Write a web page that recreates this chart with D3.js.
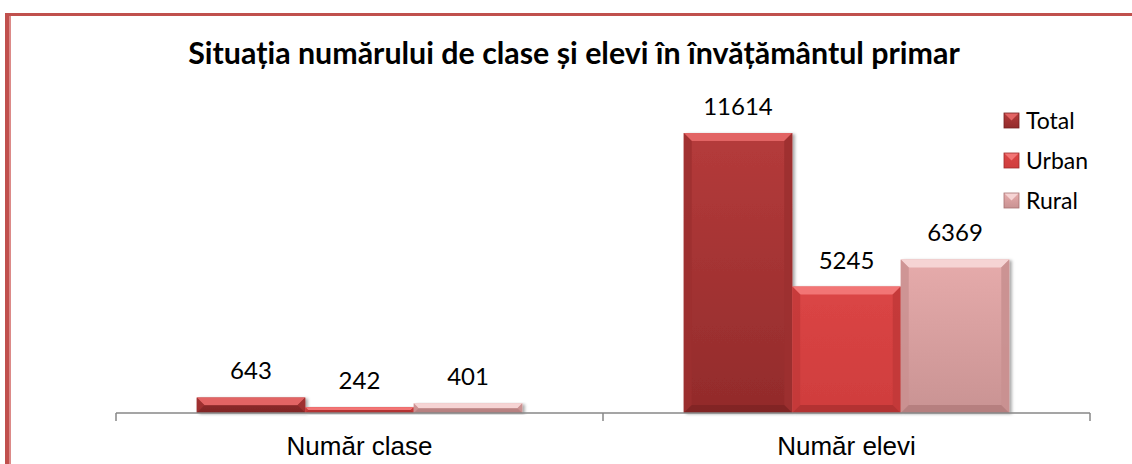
<!DOCTYPE html>
<html>
<head>
<meta charset="utf-8">
<script src="https://cdn.jsdelivr.net/npm/d3@7"></script>
<style>
  body { margin: 0; background: #fff; }
  svg { display: block; }
</style>
</head>
<body>
<svg id="chart" width="1132" height="464"></svg>
<script>
// Data
const categories = ["Număr clase", "Număr elevi"];
const seriesNames = ["Total", "Urban", "Rural"];
const totalValues = [643, 11614];
const urbanValues = [242, 5245];
const ruralValues = [401, 6369];
const yDomain = [0, 14000];

const titleText = "Situația numărului de clase și elevi în învățământul primar";

// colours for every series: face top, face bottom, top bevel, side, bottom edge
const palette = {
    Total: { top: "#b53b3b", bottom: "#922b2b", bevel: "#e26464", side: "#9c3030", edge: "#772222" },
    Urban: { top: "#db4545", bottom: "#cf3d3d", bevel: "#f27575", side: "#c23838", edge: "#a02c2c" },
    Rural: { top: "#e6abab", bottom: "#c99393", bevel: "#f6d4d4", side: "#c99090", edge: "#a87272" }
};

const rows = categories.map((c, i) => ({
    category: c,
    values: [
        { key: "Total", value: totalValues[i] },
        { key: "Urban", value: urbanValues[i] },
        { key: "Rural", value: ruralValues[i] }
    ]
}));

const svg = d3.select("#chart");

// frame: thick left side and top line
svg.append("rect").attr("x", 5).attr("y", 13).attr("width", 1127).attr("height", 3).attr("fill", "#c0504d");
svg.append("rect").attr("x", 5).attr("y", 13).attr("width", 5).attr("height", 451).attr("fill", "#c0504d");
svg.append("rect").attr("x", 9).attr("y", 16).attr("width", 2).attr("height", 448).attr("fill", "#dc8a88");

const defs = svg.append("defs");
seriesNames.forEach(k => {
    const g = defs.append("linearGradient").attr("id", "grad-" + k)
        .attr("x1", 0).attr("y1", 0).attr("x2", 0).attr("y2", 1);
    g.append("stop").attr("offset", "0%").attr("stop-color", palette[k].top);
    g.append("stop").attr("offset", "100%").attr("stop-color", palette[k].bottom);
});
const shadow = defs.append("filter").attr("id", "shadow")
    .attr("x", "-10%").attr("y", "-10%").attr("width", "130%").attr("height", "130%");
shadow.append("feDropShadow").attr("dx", 2.5).attr("dy", 1).attr("stdDeviation", 1.5)
    .attr("flood-color", "#000").attr("flood-opacity", 0.35);

// scales
const x0 = d3.scaleBand().domain(categories).range([116, 1090]).paddingInner(0).paddingOuter(0);
const x1 = d3.scaleBand().domain(seriesNames).range([0, x0.bandwidth()]).paddingInner(0).paddingOuter(0.744);
const y = d3.scaleLinear().domain(yDomain).range([413, 75.5]);

// title, fitted to the width it has in the picture
const title = svg.append("text")
    .attr("x", 574).attr("y", 64)
    .attr("text-anchor", "middle")
    .style("font-family", "Lato, 'Open Sans', sans-serif")
    .style("font-weight", "bold")
    .style("font-size", "26px")
    .attr("fill", "#000")
    .text(titleText);
const tw = title.node().getComputedTextLength();
title.style("font-size", (26 * 772 / tw).toFixed(2) + "px");

// bars
const groups = svg.append("g").selectAll("g")
    .data(rows)
    .join("g")
    .attr("transform", d => `translate(${x0(d.category)},0)`);

groups.each(function (row) {
    const g = d3.select(this);
    row.values.forEach(v => {
        const bx = x1(v.key);
        const w = x1.bandwidth();
        const top = y(v.value);
        const h = y(0) - top;
        const b = Math.min(8, h / 2);
        const c = palette[v.key];
        const bar = g.append("g");
        bar.append("rect")
            .attr("x", bx).attr("y", top).attr("width", w).attr("height", h)
            .attr("fill", "url(#grad-" + v.key + ")")
            .attr("filter", "url(#shadow)");
        // top bevel
        bar.append("path")
            .attr("d", `M${bx},${top}L${bx + w},${top}L${bx + w - b},${top + b}L${bx + b},${top + b}Z`)
            .attr("fill", c.bevel);
        // side bevels
        bar.append("path")
            .attr("d", `M${bx},${top}L${bx + b},${top + b}L${bx + b},${top + h - b}L${bx},${top + h}Z`)
            .attr("fill", c.side).attr("opacity", 0.8);
        bar.append("path")
            .attr("d", `M${bx + w},${top}L${bx + w - b},${top + b}L${bx + w - b},${top + h - b}L${bx + w},${top + h}Z`)
            .attr("fill", c.side).attr("opacity", 0.9);
        // bottom bevel
        bar.append("path")
            .attr("d", `M${bx},${top + h}L${bx + b},${top + h - b}L${bx + w - b},${top + h - b}L${bx + w},${top + h}Z`)
            .attr("fill", c.edge).attr("opacity", 0.6);
        // value label
        g.append("text")
            .attr("x", bx + w / 2).attr("y", top - 18)
            .attr("text-anchor", "middle")
            .style("font-family", "Lato, 'Open Sans', sans-serif")
            .style("font-size", "24px")
            .attr("fill", "#000")
            .text(v.value);
    });
});

// category axis with ticks between groups
const axis = svg.append("g").attr("transform", "translate(0,413)");
axis.append("line").attr("x1", 116).attr("x2", 1090).attr("y1", 0).attr("y2", 0)
    .attr("stroke", "#878787").attr("stroke-width", 1.5);
const tickXs = categories.map(c => x0(c)).concat([x0(categories[categories.length - 1]) + x0.bandwidth()]);
axis.selectAll("line.tick").data(tickXs).join("line")
    .attr("class", "tick")
    .attr("x1", d => d).attr("x2", d => d).attr("y1", 0).attr("y2", 8)
    .attr("stroke", "#878787").attr("stroke-width", 1.5);
axis.selectAll("text").data(categories).join("text")
    .attr("x", d => x0(d) + x0.bandwidth() / 2)
    .attr("y", 42)
    .attr("text-anchor", "middle")
    .style("font-family", "'Liberation Sans', Arial, sans-serif")
    .style("font-size", "26px")
    .attr("fill", "#000")
    .text(d => d);

// legend
const legend = svg.append("g").attr("transform", "translate(1004,0)");
const legendY = d3.scaleBand().domain(seriesNames).range([113, 233]);
seriesNames.forEach(k => {
    const ly = legendY(k);
    const c = palette[k];
    const s = 15;
    const item = legend.append("g").attr("transform", `translate(0,${ly})`);
    item.append("rect").attr("x", 0).attr("y", 0).attr("width", s).attr("height", s)
        .attr("fill", "url(#grad-" + k + ")");
    item.append("path").attr("d", `M0,0L${s},0L${s / 2},${s / 2}Z`).attr("fill", c.bevel);
    item.append("rect").attr("x", 0).attr("y", 0).attr("width", s).attr("height", s)
        .attr("fill", "none").attr("stroke", c.edge).attr("stroke-width", 0.8);
    item.append("text")
        .attr("x", 22).attr("y", 15.5)
        .style("font-family", "Lato, 'Open Sans', sans-serif")
        .style("font-size", "23px")
        .attr("fill", "#000")
        .text(k);
});
</script>
</body>
</html>
